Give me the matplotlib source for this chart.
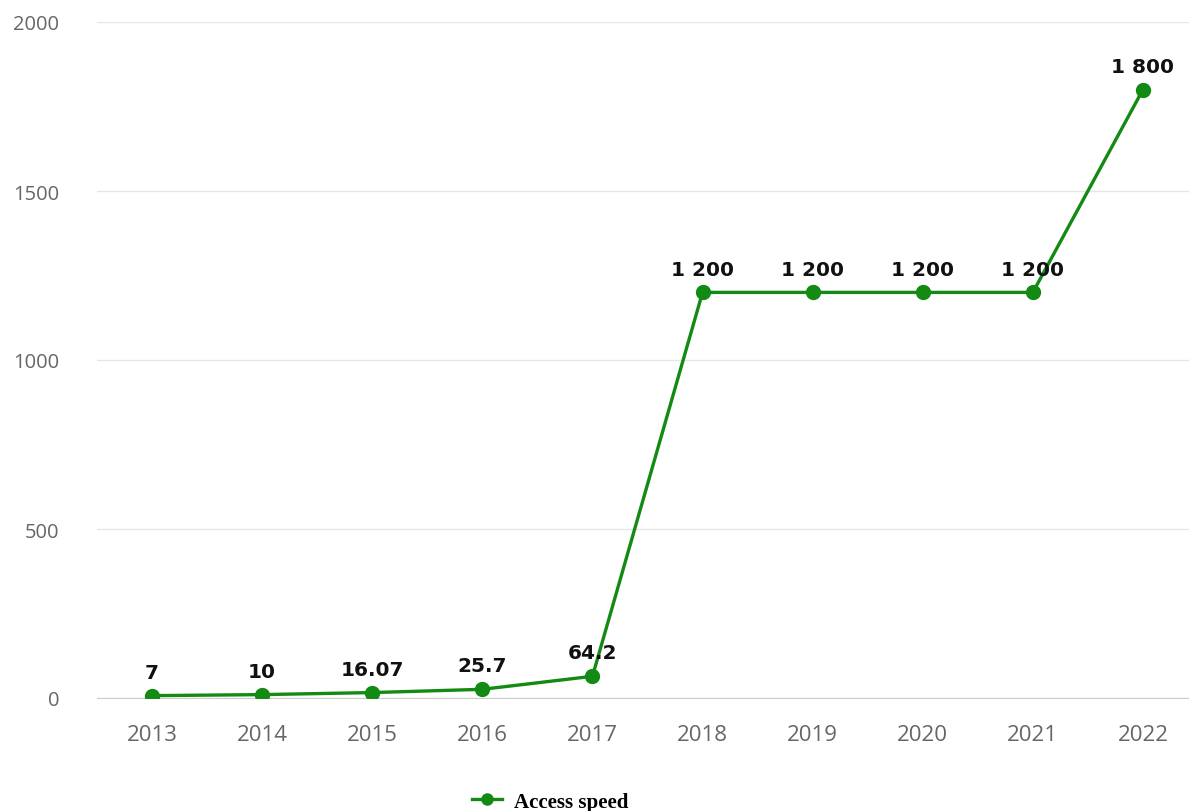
import matplotlib
matplotlib.use("Agg")
import matplotlib.pyplot as plt

years = ["2013", "2014", "2015", "2016", "2017", "2018", "2019", "2020", "2021", "2022"]
speed = [7, 10, 16.07, 25.7, 64.2, 1200, 1200, 1200, 1200, 1800]
labels = ["7", "10", "16.07", "25.7", "64.2", "1 200", "1 200", "1 200", "1 200", "1 800"]
yticks = [0, 500, 1000, 1500, 2000]

green = "#138a13"

fig = plt.figure(figsize=(11.89, 8.12), dpi=100)
ax = fig.add_axes([97 / 1189, 113 / 812, 1101 / 1189, 676 / 812])

x = list(range(len(years)))
ax.plot(x, speed, color=green, lw=2.4, marker="o", ms=10, label="Access speed", zorder=3)

# value labels above each point
for i, (v, t) in enumerate(zip(speed, labels)):
    ax.annotate(t, (i, v), xytext=(0, 10), textcoords="offset points",
                ha="center", va="bottom", fontsize=14.5, fontweight="bold",
                color="#111111", family="DejaVu Sans")

ax.set_xlim(-0.5, len(years) - 0.5)
ax.set_ylim(0, 2000)
ax.set_xticks(x)
ax.set_xticklabels(years)
ax.set_yticks(yticks)
ax.grid(axis="y", color="#e6e6e6", lw=1)
ax.set_axisbelow(True)
for s in ["top", "right", "left"]:
    ax.spines[s].set_visible(False)
ax.spines["bottom"].set_color("#cccccc")
ax.tick_params(axis="both", length=0, colors="#666666", labelfontfamily="Open Sans")
ax.tick_params(axis="x", pad=19, labelsize=16)
ax.tick_params(axis="y", pad=27, labelsize=14.5)

leg = fig.legend(loc="lower center", bbox_to_anchor=(0.463, -0.024), frameon=False,
                 prop={"family": "Liberation Serif", "weight": "bold", "size": 15},
                 handlelength=1.4, handletextpad=0.6, markerscale=0.8)

fig.savefig("out.png", dpi=100)
